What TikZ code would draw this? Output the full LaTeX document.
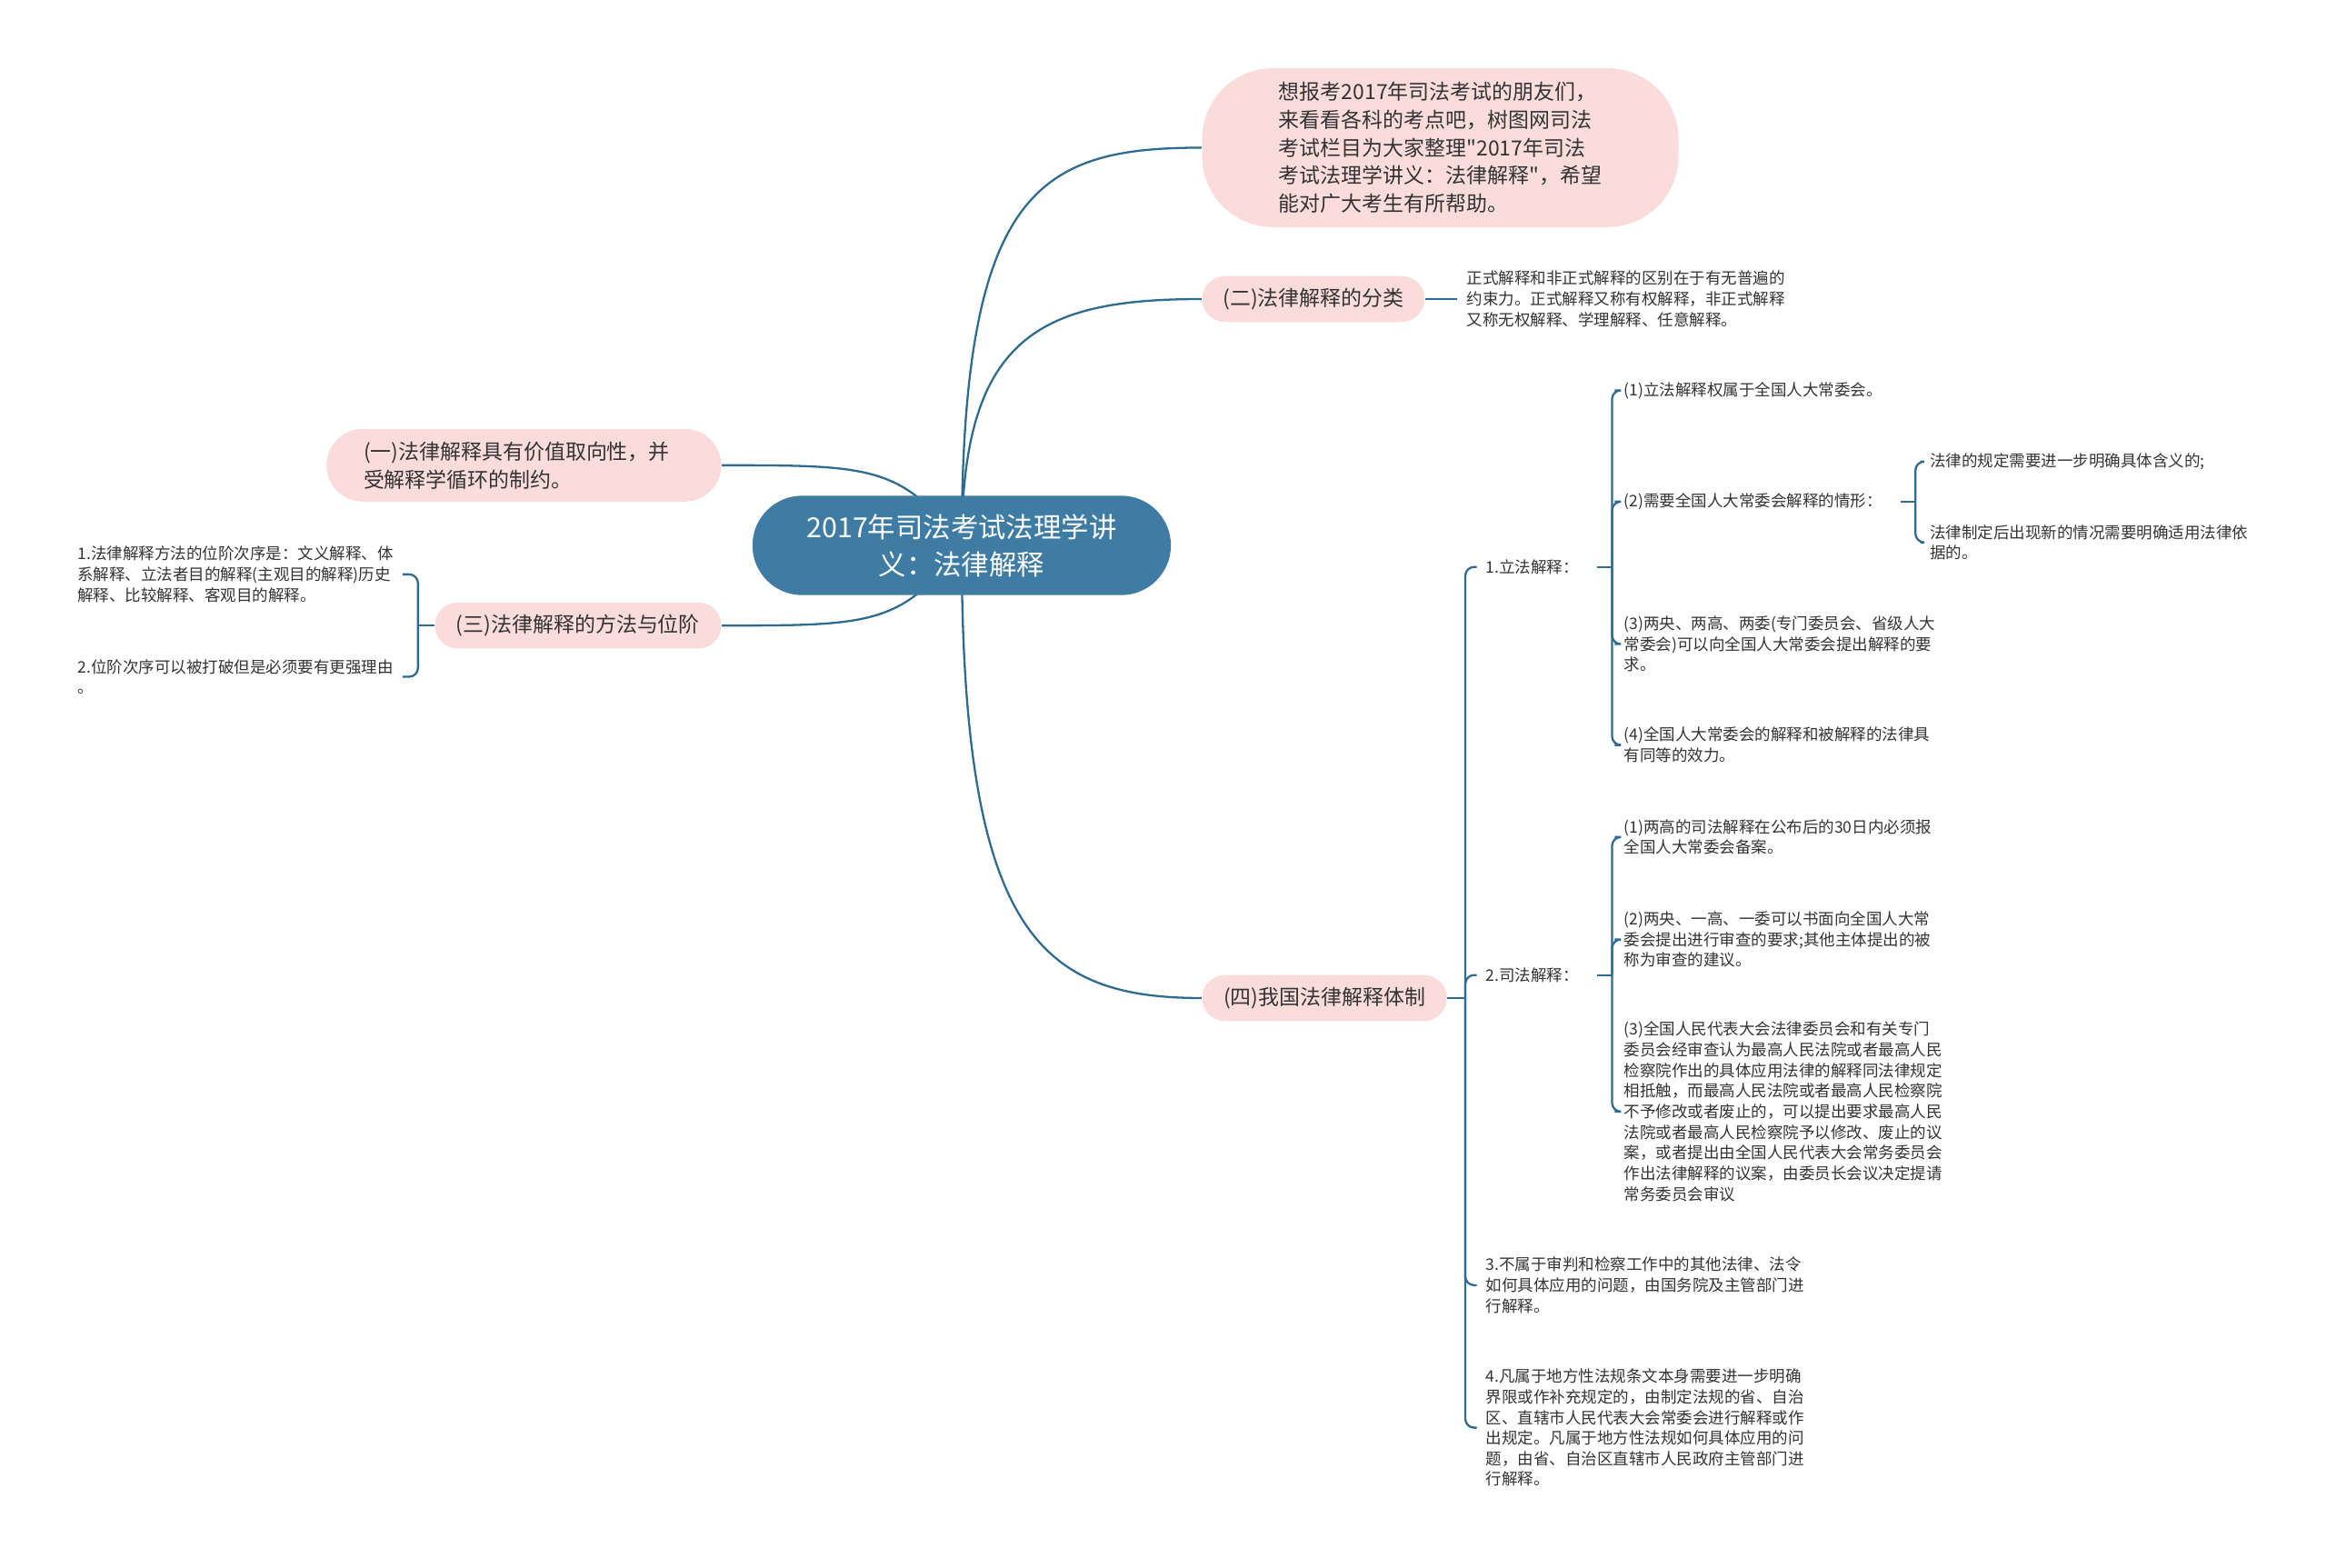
\documentclass[tikz,border=0pt]{standalone}
\usepackage{fontspec}
\setmainfont{Noto Sans CJK SC}[Ligatures=TeXOff]
\usetikzlibrary{backgrounds}

\definecolor{rootblue}{HTML}{3E7CA4}
\definecolor{linkblue}{HTML}{2F6A8F}
\definecolor{pinkfill}{HTML}{FADCDB}
\definecolor{inktext}{HTML}{333333}

\begin{document}
\begin{tikzpicture}[
    x=0.02cm, y=-0.02cm,
    rootnode/.style={fill=rootblue, text=white, rounded corners=0.67cm,
        minimum width=5.64cm, minimum height=1.34cm, align=center,
        inner sep=0pt, font=\fontsize{10.6}{14.2}\selectfont},
    topicnode/.style={fill=pinkfill, text=inktext, align=left,
        inner sep=0pt, font=\fontsize{8.0}{10.8}\selectfont},
    leaflabel/.style={text=inktext, align=left, inner xsep=0.12cm,
        inner ysep=0pt, font=\fontsize{6.1}{7.9}\selectfont},
    linkedge/.style={draw=linkblue, line width=0.8pt},
    bracketedge/.style={linkedge, rounded corners=0.12cm},
]

\useasboundingbox (0,0) rectangle (1568,1056);

% ── Centre and main topics ──────────────────────────────────
\node[rootnode] (root) at (648,367.5) {2017年司法考试法理学讲\\义：法律解释};

\node[topicnode, minimum width=6.42cm, minimum height=2.14cm,
      rounded corners=0.95cm, font=\fontsize{8.0}{10.7}\selectfont]
    (intro) at (970.5,99.5)
    {想报考2017年司法考试的朋友们，\\来看看各科的考点吧，树图网司法\\考试栏目为大家整理"2017年司法\\考试法理学讲义：法律解释"，希望\\能对广大考生有所帮助。};

\node[topicnode, minimum width=3.0cm, minimum height=0.62cm,
      rounded corners=0.31cm] (kinds) at (885,201.5) {(二)法律解释的分类};
\node[topicnode, minimum height=0.98cm, text width=4.32cm, inner xsep=0.5cm,
      rounded corners=0.49cm] (value) at (353,313.5)
    {(一)法律解释具有价值取向性，并\\受解释学循环的制约。};
\node[topicnode, minimum width=3.86cm, minimum height=0.62cm,
      rounded corners=0.31cm] (method) at (389.5,421.5) {(三)法律解释的方法与位阶};
\node[topicnode, minimum width=3.3cm, minimum height=0.62cm,
      rounded corners=0.31cm] (system) at (892.5,672.5) {(四)我国法律解释体制};

% ── (二) leaf ───────────────────────────────────────────────
\node[leaflabel, anchor=west] (kindsA) at (982,201.5)
    {正式解释和非正式解释的区别在于有无普遍的\\约束力。正式解释又称有权解释，非正式解释\\又称无权解释、学理解释、任意解释。};

% ── (三) leaves ─────────────────────────────────────────────
\node[leaflabel, anchor=west] (methodA) at (46,387)
    {1.法律解释方法的位阶次序是：文义解释、体\\系解释、立法者目的解释(主观目的解释)历史\\解释、比较解释、客观目的解释。};
\node[leaflabel, anchor=west] (methodB) at (46,456)
    {2.位阶次序可以被打破但是必须要有更强理由\\。};

% ── (四) branches ───────────────────────────────────────────
\node[leaflabel, anchor=west] (leg) at (995,382) {1.立法解释：};
\node[leaflabel, anchor=west] (jud) at (995,657) {2.司法解释：};
\node[leaflabel, anchor=west] (admin) at (995,866)
    {3.不属于审判和检察工作中的其他法律、法令\\如何具体应用的问题，由国务院及主管部门进\\行解释。};
\node[leaflabel, anchor=west] (local) at (995,962)
    {4.凡属于地方性法规条文本身需要进一步明确\\界限或作补充规定的，由制定法规的省、自治\\区、直辖市人民代表大会常委会进行解释或作\\出规定。凡属于地方性法规如何具体应用的问\\题，由省、自治区直辖市人民政府主管部门进\\行解释。};

% 1.立法解释 items
\node[leaflabel, anchor=west] (legA) at (1088,263) {(1)立法解释权属于全国人大常委会。};
\node[leaflabel, anchor=west] (legB) at (1088,338) {(2)需要全国人大常委会解释的情形：};
\node[leaflabel, anchor=west] (legC) at (1088,434)
    {(3)两央、两高、两委(专门委员会、省级人大\\常委会)可以向全国人大常委会提出解释的要\\求。};
\node[leaflabel, anchor=west] (legD) at (1088,502)
    {(4)全国人大常委会的解释和被解释的法律具\\有同等的效力。};
\node[leaflabel, anchor=west] (legBa) at (1294,311) {法律的规定需要进一步明确具体含义的;};
\node[leaflabel, anchor=west] (legBb) at (1294,365.5)
    {法律制定后出现新的情况需要明确适用法律依\\据的。};

% 2.司法解释 items
\node[leaflabel, anchor=west] (judA) at (1088,564)
    {(1)两高的司法解释在公布后的30日内必须报\\全国人大常委会备案。};
\node[leaflabel, anchor=west] (judB) at (1088,633)
    {(2)两央、一高、一委可以书面向全国人大常\\委会提出进行审查的要求;其他主体提出的被\\称为审查的建议。};
\node[leaflabel, anchor=west] (judC) at (1088,749)
    {(3)全国人民代表大会法律委员会和有关专门\\委员会经审查认为最高人民法院或者最高人民\\检察院作出的具体应用法律的解释同法律规定\\相抵触，而最高人民法院或者最高人民检察院\\不予修改或者废止的，可以提出要求最高人民\\法院或者最高人民检察院予以修改、废止的议\\案，或者提出由全国人民代表大会常务委员会\\作出法律解释的议案，由委员长会议决定提请\\常务委员会审议};

% ── Connectors ──────────────────────────────────────────────
\begin{pgfonlayer}{background}
\draw[linkedge] (root.center) .. controls +(0,-240) and +(-110,0) .. (intro.west);
\draw[linkedge] (root.center) .. controls +(0,-140) and +(-110,0) .. (kinds.west);
\draw[linkedge] (root.center) .. controls +(0,260) and +(-110,0) .. (system.west);
\draw[linkedge] (root.center) .. controls +(-40,-54) and +(100,0) .. (value.east);
\draw[linkedge] (root.center) .. controls +(-40,54) and +(100,0) .. (method.east);
\end{pgfonlayer}

\draw[linkedge] (kinds.east) -- (kindsA.west);

\draw[linkedge] (method.west) -- ++(-11,0) coordinate (methodT);
\foreach \k in {methodA, methodB}
    \draw[bracketedge] (methodT) |- (\k.east);

\draw[linkedge] (system.east) -- ++(12,0) coordinate (systemT);
\foreach \k in {leg, jud, admin, local}
    \draw[bracketedge] (systemT) |- (\k.west);

\draw[linkedge] ([xshift=0.12cm]leg.east) -- ++(10,0) coordinate (legT);
\foreach \k in {legA, legB, legC, legD}
    \draw[bracketedge] (legT) |- (\k.west);

\draw[linkedge] ([xshift=0.12cm]legB.east) -- ++(10,0) coordinate (legBT);
\foreach \k in {legBa, legBb}
    \draw[bracketedge] (legBT) |- (\k.west);

\draw[linkedge] ([xshift=0.12cm]jud.east) -- ++(10,0) coordinate (judT);
\foreach \k in {judA, judB, judC}
    \draw[bracketedge] (judT) |- (\k.west);

\end{tikzpicture}
\end{document}
